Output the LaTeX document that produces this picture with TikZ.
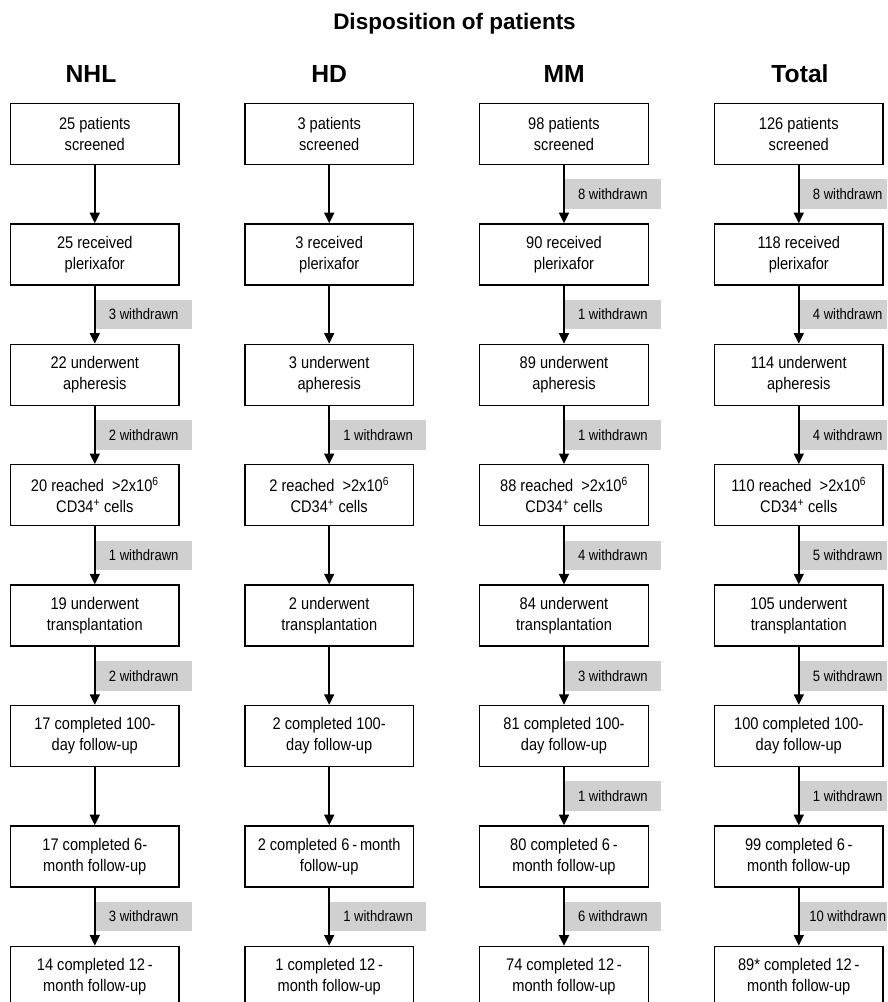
\documentclass[tikz,border=0pt]{standalone}
\usepackage{fontspec}
\setmainfont{Liberation Sans}
\newfontfamily\narrowfont{Liberation Sans}[FakeStretch=0.87]
\usetikzlibrary{arrows.meta}
\definecolor{wgray}{RGB}{208,208,208}
\tikzset{
  flowbox/.style={draw=black, line width=1.4pt, minimum width=168.5pt, minimum height=61pt,
    inner sep=0pt, align=center, font=\narrowfont\fontsize{16.8}{21}\selectfont},
  wbox/.style={fill=wgray, minimum width=96pt, minimum height=29.5pt, inner sep=0pt,
    anchor=west, font=\narrowfont\fontsize{15}{18}\selectfont},
  arr/.style={line width=1.5pt, -{Triangle[width=10pt,length=10.5pt]}},
  header/.style={font=\bfseries\fontsize{24.7}{28}\selectfont, anchor=base},
  titlestyle/.style={font=\bfseries\fontsize{22.5}{26}\selectfont, anchor=base},
}
\begin{document}
\begin{tikzpicture}[x=1pt,y=-1pt]
\useasboundingbox (0,0) rectangle (887,1002);
\clip (0,0) rectangle (887,1002);

\node[titlestyle] (title) at (454.5,29.3) {Disposition of patients};
\node[header] (hNHL) at (91,82.7) {NHL};
\node[header] (hHD) at (329.2,82.7) {HD};
\node[header] (hMM) at (564.2,82.7) {MM};
\node[header] (hTot) at (800,82.7) {Total};

% NHL
\node[flowbox] (n1) at (94.8,134) {25 patients\\screened};
\node[flowbox] (n2) at (94.8,254.4) {25 received\\plerixafor};
\node[flowbox] (n3) at (94.8,374.8) {22 underwent\\apheresis};
\node[flowbox] (n4) at (94.8,495.2) {20 reached\ \ >2x10\textsuperscript{6}\\CD34\textsuperscript{+} cells};
\node[flowbox] (n5) at (94.8,615.6) {19 underwent\\transplantation};
\node[flowbox] (n6) at (94.8,736) {17 completed 100-\\day follow-up};
\node[flowbox] (n7) at (94.8,856.4) {17 completed 6-\\month follow-up};
\node[flowbox] (n8) at (94.8,976.8) {14 completed 12\,-\\month follow-up};

% HD
\node[flowbox] (h1) at (329.2,134) {3 patients\\screened};
\node[flowbox] (h2) at (329.2,254.4) {3 received\\plerixafor};
\node[flowbox] (h3) at (329.2,374.8) {3 underwent\\apheresis};
\node[flowbox] (h4) at (329.2,495.2) {2 reached\ \ >2x10\textsuperscript{6}\\CD34\textsuperscript{+} cells};
\node[flowbox] (h5) at (329.2,615.6) {2 underwent\\transplantation};
\node[flowbox] (h6) at (329.2,736) {2 completed 100-\\day follow-up};
\node[flowbox] (h7) at (329.2,856.4) {2 completed 6\,-\,month\\follow-up};
\node[flowbox] (h8) at (329.2,976.8) {1 completed 12\,-\\month follow-up};

% MM
\node[flowbox] (m1) at (564,134) {98 patients\\screened};
\node[flowbox] (m2) at (564,254.4) {90 received\\plerixafor};
\node[flowbox] (m3) at (564,374.8) {89 underwent\\apheresis};
\node[flowbox] (m4) at (564,495.2) {88 reached\ \ >2x10\textsuperscript{6}\\CD34\textsuperscript{+} cells};
\node[flowbox] (m5) at (564,615.6) {84 underwent\\transplantation};
\node[flowbox] (m6) at (564,736) {81 completed 100-\\day follow-up};
\node[flowbox] (m7) at (564,856.4) {80 completed 6\,-\\month follow-up};
\node[flowbox] (m8) at (564,976.8) {74 completed 12\,-\\month follow-up};

% Total
\node[flowbox] (t1) at (798.8,134) {126 patients\\screened};
\node[flowbox] (t2) at (798.8,254.4) {118 received\\plerixafor};
\node[flowbox] (t3) at (798.8,374.8) {114 underwent\\apheresis};
\node[flowbox] (t4) at (798.8,495.2) {110 reached\ \ >2x10\textsuperscript{6}\\CD34\textsuperscript{+} cells};
\node[flowbox] (t5) at (798.8,615.6) {105 underwent\\transplantation};
\node[flowbox] (t6) at (798.8,736) {100 completed 100-\\day follow-up};
\node[flowbox] (t7) at (798.8,856.4) {99 completed 6\,-\\month follow-up};
\node[flowbox] (t8) at (798.8,976.8) {89* completed 12\,-\\month follow-up};

% withdrawn labels
\node[wbox] (wn2) at (95.5,314.6) {3 withdrawn};
\node[wbox] (wn3) at (95.5,435) {2 withdrawn};
\node[wbox] (wn4) at (95.5,555.4) {1 withdrawn};
\node[wbox] (wn5) at (95.5,675.8) {2 withdrawn};
\node[wbox] (wn7) at (95.5,916.6) {3 withdrawn};

\node[wbox] (wh3) at (329.9,435) {1 withdrawn};
\node[wbox] (wh7) at (329.9,916.6) {1 withdrawn};

\node[wbox] (wm1) at (564.7,194.2) {8 withdrawn};
\node[wbox] (wm2) at (564.7,314.6) {1 withdrawn};
\node[wbox] (wm3) at (564.7,435) {1 withdrawn};
\node[wbox] (wm4) at (564.7,555.4) {4 withdrawn};
\node[wbox] (wm5) at (564.7,675.8) {3 withdrawn};
\node[wbox] (wm6) at (564.7,796.2) {1 withdrawn};
\node[wbox] (wm7) at (564.7,916.6) {6 withdrawn};

\node[wbox] (wt1) at (799.5,194.2) {8 withdrawn};
\node[wbox] (wt2) at (799.5,314.6) {4 withdrawn};
\node[wbox] (wt3) at (799.5,435) {4 withdrawn};
\node[wbox] (wt4) at (799.5,555.4) {5 withdrawn};
\node[wbox] (wt5) at (799.5,675.8) {5 withdrawn};
\node[wbox] (wt6) at (799.5,796.2) {1 withdrawn};
\node[wbox] (wt7) at (799.5,916.6) {10 withdrawn};

% arrows
\foreach \c in {n,h,m,t}{
  \foreach \i [evaluate=\i as \j using int(\i+1)] in {1,...,7}{
    \draw[arr] (\c\i.south) -- (\c\j.north);
  }
}
\end{tikzpicture}
\end{document}
